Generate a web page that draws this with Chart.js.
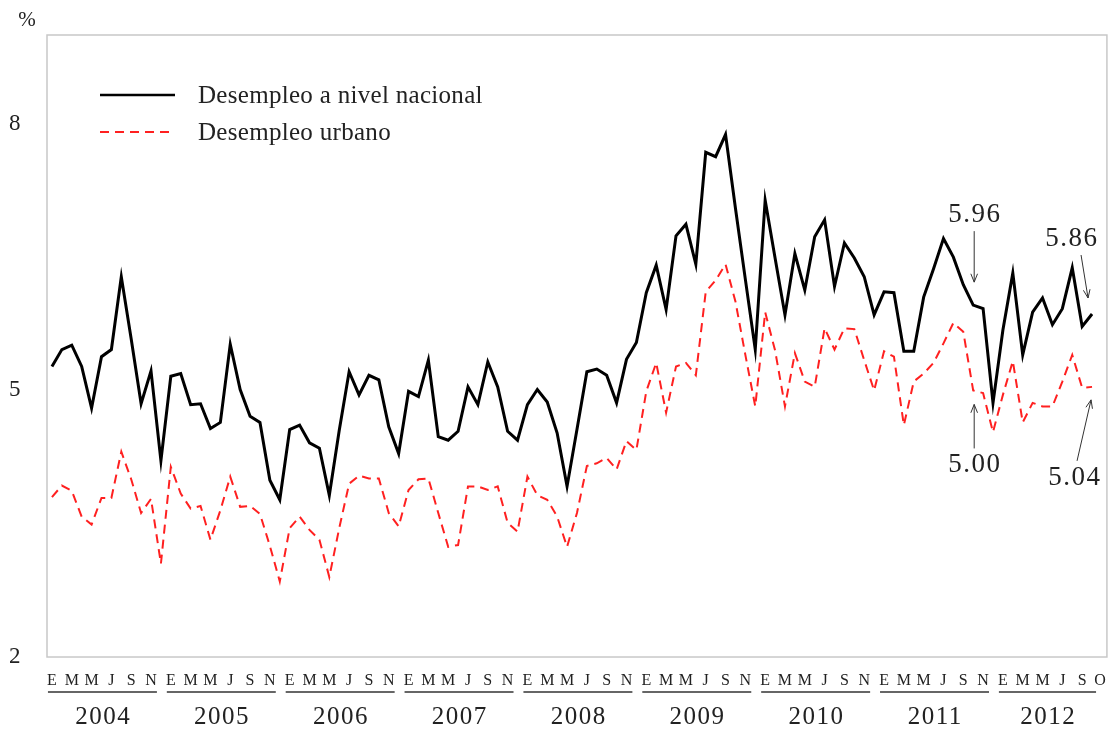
<!DOCTYPE html>
<html>
<head>
<meta charset="utf-8">
<script src="https://cdn.jsdelivr.net/npm/chart.js@4.4.1/dist/chart.umd.min.js"></script>
<style>
  html, body { margin: 0; padding: 0; background: #fff; }
  #wrap { width: 1116px; height: 755px; }
</style>
</head>
<body>
<div id="wrap"><canvas id="chart"></canvas></div>
<script>
// datos mensuales, enero 2004 - octubre 2012 (%)
const years = [2004, 2005, 2006, 2007, 2008, 2009, 2010, 2011, 2012];
const monthMarks = ['E', '', 'M', '', 'M', '', 'J', '', 'S', '', 'N', ''];
const lastYearMarks = ['E', '', 'M', '', 'M', '', 'J', '', 'S', '\u2003O'];
const yTicks = [2, 5, 8];

const nacional = [
    5.27, 5.46, 5.51, 5.27, 4.80, 5.38, 5.46, 6.28, 5.58, 4.85, 5.22, 4.21,
    5.16, 5.19, 4.84, 4.85, 4.57, 4.64, 5.52, 5.01, 4.71, 4.64, 3.99, 3.77,
    4.56, 4.61, 4.41, 4.35, 3.82, 4.55, 5.21, 4.95, 5.17, 5.12, 4.59, 4.29,
    4.99, 4.93, 5.34, 4.48, 4.44, 4.54, 5.04, 4.84, 5.32, 5.04, 4.54, 4.44,
    4.84, 5.01, 4.87, 4.52, 3.92, 4.56, 5.21, 5.24, 5.17, 4.86, 5.35, 5.54,
    6.10, 6.41, 5.91, 6.74, 6.87, 6.42, 7.68, 7.63, 7.88, 7.05, 6.25, 5.46,
    7.14, 6.49, 5.85, 6.54, 6.13, 6.73, 6.92, 6.17, 6.66, 6.49, 6.28, 5.85,
    6.11, 6.10, 5.44, 5.44, 6.05, 6.37, 6.71, 6.50, 6.19, 5.96, 5.92, 4.86,
    5.68, 6.32, 5.40, 5.88, 6.04, 5.74, 5.92, 6.38, 5.72, 5.86
];

const urbano = [
    3.80, 3.93, 3.87, 3.58, 3.49, 3.79, 3.79, 4.31, 4.00, 3.62, 3.78, 3.05,
    4.14, 3.84, 3.67, 3.70, 3.32, 3.65, 4.03, 3.69, 3.70, 3.61, 3.25, 2.85,
    3.45, 3.58, 3.43, 3.32, 2.90, 3.45, 3.95, 4.04, 4.01, 4.01, 3.62, 3.47,
    3.88, 4.00, 4.01, 3.62, 3.24, 3.26, 3.92, 3.92, 3.88, 3.92, 3.51, 3.41,
    4.03, 3.82, 3.77, 3.58, 3.24, 3.62, 4.15, 4.18, 4.24, 4.11, 4.43, 4.33,
    4.99, 5.31, 4.75, 5.27, 5.31, 5.17, 6.11, 6.24, 6.42, 6.00, 5.40, 4.82,
    5.88, 5.45, 4.82, 5.42, 5.10, 5.04, 5.70, 5.46, 5.70, 5.69, 5.34, 5.00,
    5.44, 5.38, 4.61, 5.10, 5.19, 5.31, 5.53, 5.76, 5.66, 5.00, 4.97, 4.53,
    4.95, 5.33, 4.64, 4.86, 4.82, 4.82, 5.10, 5.40, 5.03, 5.04
];

// anotaciones: [serie, índice, texto]
const notes = [
    ['nacional', 93, '5.96'],
    ['nacional', 105, '5.86'],
    ['urbano', 93, '5.00'],
    ['urbano', 105, '5.04']
];

const labels = [];
years.forEach((y, k) => {
    const marks = k === years.length - 1 ? lastYearMarks : monthMarks;
    marks.forEach((m) => labels.push(m));
});
labels.push(''); // espacio tras octubre 2012

const serif = '"Liberation Serif", "Times New Roman", serif';
const ink = '#222';

const arrow = (ctx, x1, y1, x2, y2) => {
    const a = Math.atan2(y2 - y1, x2 - x1);
    ctx.beginPath();
    ctx.moveTo(x1, y1);
    ctx.lineTo(x2, y2);
    ctx.moveTo(x2 - 9 * Math.cos(a - 0.38), y2 - 9 * Math.sin(a - 0.38));
    ctx.lineTo(x2, y2);
    ctx.lineTo(x2 - 9 * Math.cos(a + 0.38), y2 - 9 * Math.sin(a + 0.38));
    ctx.stroke();
};

// texto centrado con espaciado entre letras
const spaced = (ctx, txt, x, y, sp) => {
    ctx.letterSpacing = sp + 'px';
    ctx.fillText(txt, x + sp / 2, y);
    ctx.letterSpacing = '0px';
};

const extras = {
    id: 'extras',
    afterDraw(chart) {
        const { ctx, chartArea: ca, scales } = chart;
        const xs = scales.x, ys = scales.y;
        ctx.save();

        // marco
        ctx.strokeStyle = '#c8c8c8';
        ctx.lineWidth = 1.5;
        ctx.strokeRect(ca.left, ca.top, ca.right - ca.left, ca.bottom - ca.top);

        ctx.fillStyle = ink;
        ctx.font = '21px ' + serif;
        ctx.textAlign = 'center';
        ctx.textBaseline = 'middle';
        ctx.fillText('%', ca.left - 20, ca.top - 15);

        // años
        ctx.font = '25px ' + serif;
        ctx.strokeStyle = '#333';
        ctx.lineWidth = 1.5;
        years.forEach((y, k) => {
            const first = k * 12;
            const last = Math.min(first + 11, nacional.length - 1);
            const x0 = xs.getPixelForValue(first) - 4;
            const x1 = k === years.length - 1 ? xs.getPixelForValue(last) + 4 : xs.getPixelForValue(last) - 4;
            ctx.beginPath();
            ctx.moveTo(x0, ca.bottom + 35);
            ctx.lineTo(x1, ca.bottom + 35);
            ctx.stroke();
            spaced(ctx, String(y), (x0 + x1) / 2, ca.bottom + 60, 1.5);
        });

        // leyenda
        const lx = ca.left + 53, ly = ca.top + 60;
        ctx.lineWidth = 2.5;
        ctx.strokeStyle = '#000';
        ctx.beginPath();
        ctx.moveTo(lx, ly);
        ctx.lineTo(lx + 75, ly);
        ctx.stroke();
        ctx.strokeStyle = '#ff2020';
        ctx.lineWidth = 2;
        ctx.setLineDash([9, 6]);
        ctx.beginPath();
        ctx.moveTo(lx, ly + 37);
        ctx.lineTo(lx + 75, ly + 37);
        ctx.stroke();
        ctx.setLineDash([]);
        ctx.font = '25px ' + serif;
        ctx.textAlign = 'left';
        ctx.letterSpacing = '0.3px';
        ctx.fillText('Desempleo a nivel nacional', lx + 98, ly + 1);
        ctx.fillText('Desempleo urbano', lx + 98, ly + 38);
        ctx.letterSpacing = '0px';

        // anotaciones
        ctx.font = '27px ' + serif;
        ctx.textAlign = 'center';
        ctx.strokeStyle = '#333';
        ctx.lineWidth = 1;
        notes.forEach(([serie, i, txt]) => {
            const v = serie === 'nacional' ? nacional[i] : urbano[i];
            const px = xs.getPixelForValue(i), py = ys.getPixelForValue(v);
            const end = i === nacional.length - 1;
            if (serie === 'nacional') {
                if (!end) {
                    spaced(ctx, txt, px + 1, py - 90, 1.5);
                    arrow(ctx, px + 1, py - 74, px + 1, py - 23);
                } else {
                    spaced(ctx, txt, px - 21, py - 75, 1.5);
                    arrow(ctx, px - 11, py - 59, px - 4, py - 16);
                }
            } else {
                if (!end) {
                    spaced(ctx, txt, px + 1, py + 74, 1.5);
                    arrow(ctx, px + 1, py + 58, px + 1, py + 14);
                } else {
                    spaced(ctx, txt, px - 18, py + 91, 1.5);
                    arrow(ctx, px - 15, py + 74, px - 1, py + 13);
                }
            }
        });
        ctx.restore();
    }
};

new Chart(document.getElementById('chart'), {
    type: 'line',
    data: {
        labels,
        datasets: [
            {
                label: 'Desempleo a nivel nacional',
                data: nacional,
                borderColor: '#000',
                borderWidth: 3,
                pointRadius: 0,
                tension: 0,
            },
            {
                label: 'Desempleo urbano',
                data: urbano,
                borderColor: '#ff2020',
                borderWidth: 2,
                borderDash: [9, 6],
                pointRadius: 0,
                tension: 0,
            },
        ],
    },
    options: {
        responsive: true,
        maintainAspectRatio: false,
        animation: false,
        layout: { padding: { top: 35, right: 8, left: 9, bottom: 0 } },
        plugins: { legend: { display: false }, tooltip: { enabled: false } },
        scales: {
            x: {
                offset: true,
                grid: { display: false, drawTicks: false },
                border: { display: false },
                afterFit: (s) => { s.height = 98; },
                ticks: {
                    autoSkip: false,
                    maxRotation: 0,
                    minRotation: 0,
                    padding: 14,
                    color: ink,
                    font: { family: serif, size: 16 },
                },
            },
            y: {
                min: 2,
                max: 9,
                grid: { display: false, drawTicks: false },
                border: { display: false },
                afterFit: (s) => { s.width = 38; },
                afterBuildTicks: (s) => { s.ticks = yTicks.map((v) => ({ value: v })); },
                ticks: {
                    crossAlign: 'far',
                    padding: 0,
                    color: ink,
                    font: { family: serif, size: 23 },
                },
            },
        },
    },
    plugins: [extras],
});
</script>
</body>
</html>
